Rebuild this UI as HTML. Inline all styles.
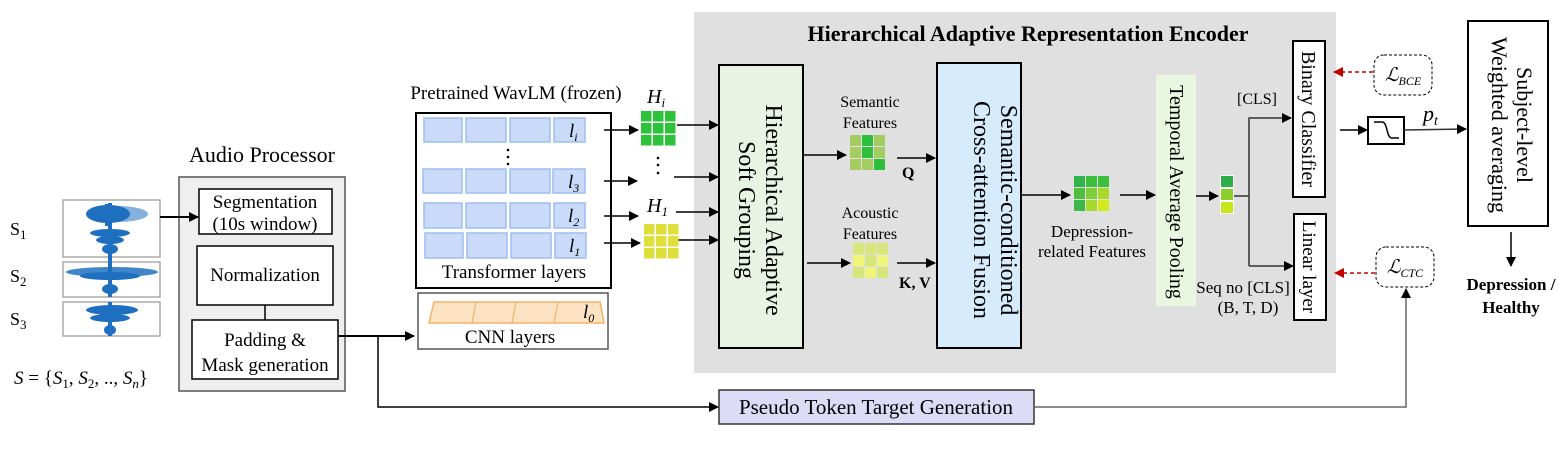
<!DOCTYPE html>
<html><head><meta charset="utf-8"><style>
body{margin:0;background:#fff;}
svg{display:block;font-family:"Liberation Serif",serif;}
</style></head><body>
<svg width="1560" height="450" viewBox="0 0 1560 450" xmlns="http://www.w3.org/2000/svg">
<defs>
<marker id="a" markerWidth="10" markerHeight="10" refX="9" refY="5" orient="auto" markerUnits="userSpaceOnUse"><path d="M0,0 L10,5 L0,10 z" fill="#000"/></marker>
<marker id="r" markerWidth="10" markerHeight="10" refX="9" refY="5" orient="auto" markerUnits="userSpaceOnUse"><path d="M0,0 L10,5 L0,10 z" fill="#c00000"/></marker>
</defs>

<rect x="694" y="12" width="642" height="361" fill="#e0e0e0"/>
<text x="1028" y="41" font-size="22" font-weight="bold" text-anchor="middle">Hierarchical Adaptive Representation Encoder</text>

<!-- waveforms -->
<g stroke="#aaa" stroke-width="1.5" fill="#fff">
<rect x="63" y="200" width="97" height="57"/>
<rect x="63" y="262" width="97" height="35"/>
<rect x="63" y="302" width="97" height="34"/>
</g>
<g fill="#1f6fc0">
<ellipse cx="118" cy="214" rx="30" ry="8" opacity="0.55"/>
<ellipse cx="108" cy="214" rx="22" ry="9"/>
<rect x="105" y="204" width="6" height="22"/>
<ellipse cx="110" cy="233" rx="20" ry="4"/>
<ellipse cx="110" cy="240" rx="14" ry="4"/>
<ellipse cx="110" cy="249" rx="8" ry="5"/>
<rect x="108" y="203" width="4" height="94"/>
<ellipse cx="112" cy="272" rx="46" ry="5" opacity="0.85"/>
<ellipse cx="110" cy="276" rx="30" ry="4"/>
<ellipse cx="110" cy="289" rx="8" ry="5"/>
<ellipse cx="112" cy="310" rx="26" ry="5"/>
<ellipse cx="110" cy="318" rx="20" ry="4"/>
<ellipse cx="110" cy="330" rx="6" ry="5"/>
<rect x="108" y="302" width="4" height="34"/>
</g>
<text x="10" y="235" font-size="18">S<tspan font-size="13" dy="4">1</tspan></text>
<text x="10" y="282" font-size="18">S<tspan font-size="13" dy="4">2</tspan></text>
<text x="10" y="325" font-size="18">S<tspan font-size="13" dy="4">3</tspan></text>
<text x="14" y="384" font-size="19"><tspan font-style="italic">S</tspan> = {<tspan font-style="italic">S</tspan><tspan font-size="13" dy="4">1</tspan><tspan dy="-4">, </tspan><tspan font-style="italic">S</tspan><tspan font-size="13" dy="4">2</tspan><tspan dy="-4">, .., </tspan><tspan font-style="italic">S</tspan><tspan font-size="13" dy="4" font-style="italic">n</tspan><tspan dy="-4">}</tspan></text>

<!-- audio processor -->
<text x="262" y="162" font-size="22" text-anchor="middle">Audio Processor</text>
<rect x="179" y="177" width="166" height="214" fill="#efefef" stroke="#555" stroke-width="1.5"/>
<rect x="199" y="189" width="133" height="45" fill="#fff" stroke="#000" stroke-width="1.5"/>
<text x="265" y="208" font-size="19" text-anchor="middle">Segmentation</text>
<text x="265" y="230" font-size="19" text-anchor="middle">(10s window)</text>
<rect x="197" y="246" width="136" height="59" fill="#fff" stroke="#000" stroke-width="1.5"/>
<text x="265" y="281" font-size="19" text-anchor="middle">Normalization</text>
<line x1="265" y1="305" x2="265" y2="320" stroke="#000" stroke-width="1.5"/>
<rect x="192" y="320" width="146" height="59" fill="#fff" stroke="#000" stroke-width="1.5"/>
<text x="265" y="346" font-size="19" text-anchor="middle">Padding &amp;</text>
<text x="265" y="371" font-size="19" text-anchor="middle">Mask generation</text>
<line x1="160" y1="217" x2="198" y2="217" stroke="#000" stroke-width="2" marker-end="url(#a)"/>

<line x1="338" y1="336" x2="414" y2="336" stroke="#000" stroke-width="2" marker-end="url(#a)"/>
<polyline points="378,336 378,407 718,407" fill="none" stroke="#000" stroke-width="1.5" marker-end="url(#a)"/>

<!-- WavLM -->
<text x="516" y="99" font-size="19" text-anchor="middle">Pretrained WavLM (frozen)</text>
<rect x="416" y="113" width="195" height="175" fill="#fff" stroke="#000" stroke-width="2"/>
<g fill="#c9dbf9" stroke="#9ebdf1" stroke-width="1.5">
<rect x="424" y="118" width="38" height="24"/><rect x="466" y="118" width="40" height="24"/><rect x="510" y="118" width="40" height="24"/><rect x="554" y="118" width="31" height="24"/>
<rect x="423" y="169" width="39" height="24"/><rect x="466" y="169" width="40" height="24"/><rect x="510" y="169" width="40" height="24"/><rect x="553" y="169" width="32" height="24"/>
<rect x="424" y="203" width="38" height="25"/><rect x="466" y="203" width="40" height="25"/><rect x="510" y="203" width="40" height="25"/><rect x="554" y="203" width="31" height="25"/>
<rect x="425" y="233" width="38" height="25"/><rect x="467" y="233" width="40" height="25"/><rect x="511" y="233" width="40" height="25"/><rect x="555" y="233" width="31" height="25"/>
</g>
<g font-size="19" font-style="italic">
<text x="569" y="137">l<tspan font-size="12" dy="4">i</tspan></text>
<text x="568" y="188">l<tspan font-size="12" dy="4">3</tspan></text>
<text x="568" y="222">l<tspan font-size="12" dy="4">2</tspan></text>
<text x="569" y="252">l<tspan font-size="12" dy="4">1</tspan></text>
</g>
<g fill="#000"><circle cx="508" cy="150" r="1.3"/><circle cx="508" cy="157" r="1.3"/><circle cx="508" cy="164" r="1.3"/></g>
<text x="514" y="278" font-size="19" text-anchor="middle">Transformer layers</text>
<rect x="418" y="293" width="190" height="56" fill="#fff" stroke="#555" stroke-width="1.5"/>
<path d="M434,302 L600,302 L604,323 L429,323 z" fill="#fde3c4" stroke="#f5b26a" stroke-width="1.5"/>
<g stroke="#f5b26a" stroke-width="1.2"><line x1="476" y1="302" x2="472" y2="323"/><line x1="516" y1="302" x2="512" y2="323"/><line x1="558" y1="302" x2="554" y2="323"/></g>
<text x="583" y="318" font-size="19" font-style="italic">l<tspan font-size="12" dy="4">0</tspan></text>
<text x="510" y="343" font-size="19" text-anchor="middle">CNN layers</text>

<g stroke="#000" stroke-width="1.5">
<line x1="604" y1="130" x2="638" y2="130" marker-end="url(#a)"/>
<line x1="604" y1="181" x2="637" y2="181" marker-end="url(#a)"/>
<line x1="604" y1="216" x2="638" y2="216" marker-end="url(#a)"/>
<line x1="604" y1="243" x2="640" y2="243" marker-end="url(#a)"/>
<line x1="677" y1="125" x2="718" y2="125" marker-end="url(#a)"/>
<line x1="674" y1="177" x2="718" y2="177" marker-end="url(#a)"/>
<line x1="676" y1="212" x2="718" y2="212" marker-end="url(#a)"/>
<line x1="678" y1="240" x2="718" y2="240" marker-end="url(#a)"/>
</g>
<text x="647" y="103" font-size="20" font-style="italic">H<tspan font-size="13" dy="4">i</tspan></text>
<text x="647" y="212" font-size="20" font-style="italic">H<tspan font-size="13" dy="4">1</tspan></text>
<g fill="#000"><circle cx="658" cy="158" r="1.3"/><circle cx="658" cy="165" r="1.3"/><circle cx="658" cy="173" r="1.3"/></g>
<g fill="#2cc338">
<rect x="641" y="111" width="10.5" height="10.5"/><rect x="653" y="111" width="10.5" height="10.5"/><rect x="665" y="111" width="10.5" height="10.5"/>
<rect x="641" y="123" width="10.5" height="10.5"/><rect x="653" y="123" width="10.5" height="10.5"/><rect x="665" y="123" width="10.5" height="10.5"/>
<rect x="641" y="135" width="10.5" height="10.5"/><rect x="653" y="135" width="10.5" height="10.5"/><rect x="665" y="135" width="10.5" height="10.5"/>
</g>
<g fill="#dfdf3a">
<rect x="644" y="224" width="10.5" height="10.5"/><rect x="656" y="224" width="10.5" height="10.5"/><rect x="668" y="224" width="10.5" height="10.5"/>
<rect x="644" y="236" width="10.5" height="10.5"/><rect x="656" y="236" width="10.5" height="10.5"/><rect x="668" y="236" width="10.5" height="10.5"/>
<rect x="644" y="248" width="10.5" height="10.5"/><rect x="656" y="248" width="10.5" height="10.5"/><rect x="668" y="248" width="10.5" height="10.5"/>
</g>

<!-- HAS -->
<rect x="719" y="65" width="84" height="283" fill="#e8f3e4" stroke="#000" stroke-width="2"/>
<text transform="translate(766,210) rotate(90)" font-size="24" text-anchor="middle">Hierarchical Adaptive</text>
<text transform="translate(739,210) rotate(90)" font-size="24" text-anchor="middle">Soft Grouping</text>

<text x="870" y="107" font-size="16" text-anchor="middle">Semantic</text>
<text x="870" y="128" font-size="16" text-anchor="middle">Features</text>
<text x="870" y="218" font-size="16" text-anchor="middle">Acoustic</text>
<text x="870" y="239" font-size="16" text-anchor="middle">Features</text>
<g>
<rect x="850" y="135" width="11" height="11" fill="#a5cc60"/><rect x="862" y="135" width="11" height="11" fill="#2dbf3c"/><rect x="874" y="135" width="11" height="11" fill="#a5cc60"/>
<rect x="850" y="147" width="11" height="11" fill="#a5cc60"/><rect x="862" y="147" width="11" height="11" fill="#2dbf3c"/><rect x="874" y="147" width="11" height="11" fill="#a5cc60"/>
<rect x="850" y="159" width="11" height="11" fill="#a5cc60"/><rect x="862" y="159" width="11" height="11" fill="#a5cc60"/><rect x="874" y="159" width="11" height="11" fill="#2dbf3c"/>
</g>
<g>
<rect x="853" y="243" width="11" height="11" fill="#d6e67a"/><rect x="865" y="243" width="11" height="11" fill="#d6e67a"/><rect x="877" y="243" width="11" height="11" fill="#d6e67a"/>
<rect x="853" y="255" width="11" height="11" fill="#f0f57a"/><rect x="865" y="255" width="11" height="11" fill="#d6e67a"/><rect x="877" y="255" width="11" height="11" fill="#f0f57a"/>
<rect x="853" y="267" width="11" height="11" fill="#d6e67a"/><rect x="865" y="267" width="11" height="11" fill="#f0f57a"/><rect x="877" y="267" width="11" height="11" fill="#d6e67a"/>
</g>
<g stroke="#000" stroke-width="1.5">
<line x1="803" y1="155" x2="846" y2="155" marker-end="url(#a)"/>
<line x1="897" y1="158" x2="935" y2="158" marker-end="url(#a)"/>
<line x1="807" y1="263" x2="850" y2="263" marker-end="url(#a)"/>
<line x1="897" y1="263" x2="935" y2="263" marker-end="url(#a)"/>
</g>
<text x="902" y="178" font-size="16" font-weight="bold">Q</text>
<text x="899" y="288" font-size="16" font-weight="bold">K, V</text>

<!-- Fusion -->
<rect x="937" y="63" width="84" height="285" fill="#d6ebfb" stroke="#000" stroke-width="2"/>
<text transform="translate(1001,210) rotate(90)" font-size="24" text-anchor="middle">Semantic-conditioned</text>
<text transform="translate(974,210) rotate(90)" font-size="24" text-anchor="middle">Cross-attention Fusion</text>
<line x1="1021" y1="195" x2="1070" y2="195" stroke="#000" stroke-width="1.5" marker-end="url(#a)"/>
<g>
<rect x="1074" y="176" width="11" height="11" fill="#2fb34a"/><rect x="1086" y="176" width="11" height="11" fill="#3cbf3c"/><rect x="1098" y="176" width="11" height="11" fill="#3cbf3c"/>
<rect x="1074" y="188" width="11" height="11" fill="#4dbf3c"/><rect x="1086" y="188" width="11" height="11" fill="#7fcf3a"/><rect x="1098" y="188" width="11" height="11" fill="#a8da2c"/>
<rect x="1074" y="200" width="11" height="11" fill="#3cb84a"/><rect x="1086" y="200" width="11" height="11" fill="#a8da2c"/><rect x="1098" y="200" width="11" height="11" fill="#d2ea1c"/>
</g>
<text x="1092" y="237" font-size="17" text-anchor="middle">Depression-</text>
<text x="1092" y="257" font-size="17" text-anchor="middle">related Features</text>
<line x1="1120" y1="195" x2="1155" y2="195" stroke="#000" stroke-width="1.5" marker-end="url(#a)"/>

<!-- TAP -->
<rect x="1156" y="75" width="40" height="231" fill="#eaf7e0"/>
<text transform="translate(1170,192) rotate(90)" font-size="20" text-anchor="middle">Temporal Average Pooling</text>
<line x1="1196" y1="196" x2="1218" y2="196" stroke="#000" stroke-width="1.5" marker-end="url(#a)"/>
<rect x="1220" y="175" width="14" height="39" fill="#fff"/>
<rect x="1221" y="176" width="12" height="11" fill="#2aae48"/>
<rect x="1221" y="189" width="12" height="11" fill="#8ccf2a"/>
<rect x="1221" y="202" width="12" height="11" fill="#c8e61c"/>
<polyline points="1234,196 1249,196" fill="none" stroke="#333" stroke-width="1.5"/>
<polyline points="1249,266 1249,118 1291,118" fill="none" stroke="#333" stroke-width="1.5" marker-end="url(#a)"/>
<line x1="1249" y1="266" x2="1293" y2="266" stroke="#333" stroke-width="1.5" marker-end="url(#a)"/>
<text x="1257" y="104" font-size="16" text-anchor="middle">[CLS]</text>
<text x="1243" y="293" font-size="17" text-anchor="middle">Seq no [CLS]</text>
<text x="1248" y="313" font-size="17" text-anchor="middle">(B, T, D)</text>

<rect x="1293" y="41" width="32" height="156" fill="#fff" stroke="#000" stroke-width="2"/>
<text transform="translate(1302,119) rotate(90)" font-size="20" text-anchor="middle">Binary Classifier</text>
<rect x="1294" y="214" width="32" height="106" fill="#fff" stroke="#000" stroke-width="2"/>
<text transform="translate(1303,267) rotate(90)" font-size="19" text-anchor="middle">Linear layer</text>

<rect x="1374" y="55" width="58" height="40" rx="10" fill="#fff" stroke="#000" stroke-dasharray="3,2"/>
<text x="1403" y="81" font-size="19" font-style="italic" text-anchor="middle">ℒ<tspan font-size="12" dy="4">BCE</tspan></text>
<rect x="1376" y="247" width="58" height="40" rx="10" fill="#fff" stroke="#000" stroke-dasharray="3,2"/>
<text x="1405" y="273" font-size="19" font-style="italic" text-anchor="middle">ℒ<tspan font-size="12" dy="4">CTC</tspan></text>
<line x1="1373" y1="72" x2="1334" y2="72" stroke="#c00000" stroke-width="1.5" stroke-dasharray="4,3" marker-end="url(#r)"/>
<line x1="1375" y1="273" x2="1335" y2="273" stroke="#c00000" stroke-width="1.5" stroke-dasharray="4,3" marker-end="url(#r)"/>

<line x1="1340" y1="130" x2="1367" y2="130" stroke="#000" stroke-width="1.5" marker-end="url(#a)"/>
<rect x="1368" y="117" width="36" height="27" fill="#fff" stroke="#000" stroke-width="2"/>
<path d="M1374,122 L1382,122 C1388,122 1386,138 1392,138 L1399,138" fill="none" stroke="#000" stroke-width="1.5"/>
<line x1="1404" y1="130" x2="1466" y2="129" stroke="#333" stroke-width="1.5" marker-end="url(#a)"/>
<text x="1423" y="121" font-size="22" font-style="italic">p<tspan font-size="14" dy="4">t</tspan></text>

<rect x="1468" y="21" width="80" height="205" fill="#fff" stroke="#000" stroke-width="2"/>
<text transform="translate(1517,125) rotate(90)" font-size="22" text-anchor="middle">Subject-level</text>
<text transform="translate(1492,125) rotate(90)" font-size="22" text-anchor="middle">Weighted averaging</text>
<line x1="1511" y1="232" x2="1511" y2="266" stroke="#000" stroke-width="1.5" marker-end="url(#a)"/>
<text x="1511" y="290" font-size="17" font-weight="bold" text-anchor="middle">Depression /</text>
<text x="1511" y="313" font-size="17" font-weight="bold" text-anchor="middle">Healthy</text>

<rect x="719" y="390" width="315" height="34" fill="#dcdcf7" stroke="#333" stroke-width="1.5"/>
<text x="876" y="414" font-size="21" text-anchor="middle">Pseudo Token Target Generation</text>
<polyline points="1034,407 1406,407 1406,289" fill="none" stroke="#666" stroke-width="1.5" marker-end="url(#a)"/>
</svg>
</body></html>
